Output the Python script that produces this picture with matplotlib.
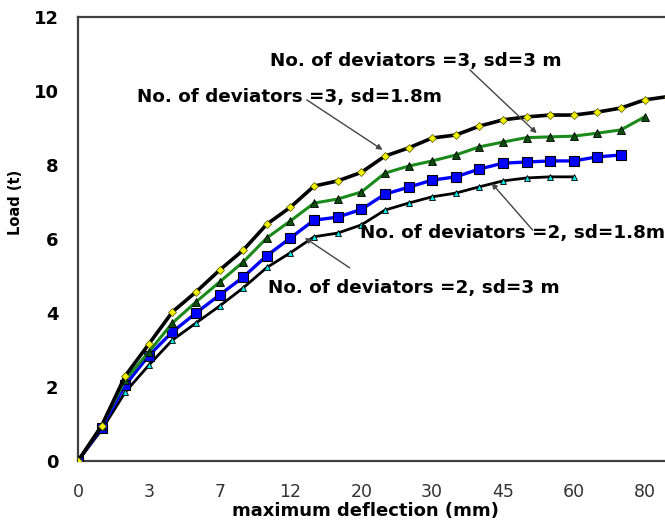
import numpy as np
import matplotlib
matplotlib.use('Agg')
import matplotlib.pyplot as plt

# category axis: one label every 3rd reading
xticklabels = ['0', '3', '7', '12', '20', '30', '45', '60', '80']

# load (t) at each reading
load_3_18 = [0, 0.95, 2.3, 3.16, 4.03, 4.57, 5.16, 5.70, 6.40, 6.86, 7.43, 7.57, 7.80,
             8.24, 8.46, 8.73, 8.81, 9.05, 9.22, 9.30, 9.35, 9.35, 9.43, 9.54, 9.76, 9.85]
load_3_3 = [0, 0.95, 2.19, 2.95, 3.73, 4.30, 4.84, 5.38, 6.03, 6.49, 6.97, 7.08, 7.27,
            7.78, 7.97, 8.11, 8.27, 8.49, 8.62, 8.74, 8.76, 8.78, 8.86, 8.95, 9.30]
load_2_3 = [0, 0.9, 2.05, 2.85, 3.49, 4.00, 4.49, 4.97, 5.55, 6.03, 6.51, 6.59, 6.80,
            7.21, 7.40, 7.59, 7.68, 7.89, 8.05, 8.08, 8.11, 8.11, 8.22, 8.27]
load_2_18 = [0, 0.84, 1.86, 2.59, 3.27, 3.73, 4.19, 4.68, 5.23, 5.63, 6.06, 6.16, 6.38,
             6.78, 6.97, 7.14, 7.24, 7.41, 7.57, 7.65, 7.68, 7.68]

fig = plt.figure(figsize=(6.65, 5.2), dpi=100)
# axes run past the right edge of the figure, like the cropped original
ax = fig.add_axes([78/665, 59/520, 602/665, 444/520])

ax.plot(np.arange(len(load_2_18)), load_2_18, color='black', lw=2.0,
        marker='^', ms=4.5, mfc='#00e5e5', mec='black', mew=0.6, zorder=3)
ax.plot(np.arange(len(load_2_3)), load_2_3, color='#0000ff', lw=2.4,
        marker='s', ms=6.5, mfc='#0000ff', mec='black', mew=0.8, zorder=4)
ax.plot(np.arange(len(load_3_3)), load_3_3, color='#1a8a1a', lw=2.2,
        marker='^', ms=5.5, mfc='#0b4d0b', mec='black', mew=0.6, zorder=5)
ax.plot(np.arange(len(load_3_18)), load_3_18, color='black', lw=2.6,
        marker='D', ms=4.0, mfc='#f0f000', mec='#555500', mew=0.5, zorder=6)

ax.set_xlim(0, 25.5)
ax.set_ylim(0, 12)
ax.set_xticks(np.arange(0, 25, 3))
ax.set_xticklabels(xticklabels)
ax.set_yticks(np.arange(0, 13, 2))
ax.tick_params(axis='both', length=0)
ax.tick_params(axis='x', pad=16, labelsize=12.5, labelcolor='#333333')
ax.tick_params(axis='y', pad=14, labelsize=13)
for t in ax.get_yticklabels():
    t.set_fontweight('bold')

for s in ['left', 'bottom', 'top', 'right']:
    ax.spines[s].set_color('#404040')
    ax.spines[s].set_linewidth(1.6)

ax.set_xlabel('maximum deflection (mm)', fontsize=13, fontweight='bold')
ax.xaxis.set_label_coords(0.478, -0.093)
ax.set_ylabel('Load (t)', fontsize=10.5, fontweight='bold')
ax.yaxis.set_label_coords(-0.092, 0.583)

# annotations: text, then arrow (start, end)
notes = [
    ('No. of deviators =3, sd=3 m', (8.13, 10.81), (16.6, 10.57), (19.43, 8.86)),
    ('No. of deviators =3, sd=1.8m', (2.5, 9.84), (9.69, 9.76), (12.9, 8.41)),
    ('No. of deviators =2, sd=1.8m', (11.94, 6.16), (19.26, 6.24), (17.52, 7.51)),
    ('No. of deviators =2, sd=3 m', (8.04, 4.68), (11.51, 5.22), (9.61, 6.03)),
]
for txt, tpos, a0, a1 in notes:
    ax.text(tpos[0], tpos[1], txt, fontsize=13.2, fontweight='bold',
            ha='left', va='center', zorder=8)
    ax.annotate('', xy=a1, xytext=a0,
                arrowprops=dict(arrowstyle='-|>', color='#444444', lw=1.0,
                                mutation_scale=8, shrinkA=0, shrinkB=0),
                zorder=7)

plt.savefig('out.png', dpi=100)
